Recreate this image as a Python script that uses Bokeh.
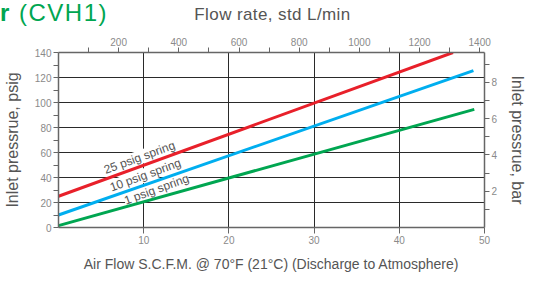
from bokeh.plotting import figure
from bokeh.models import Range1d, LinearAxis, FixedTicker, Label, Div
from bokeh.layouts import column
from bokeh.embed import file_html
from bokeh.resources import INLINE

# ---- data ----
heading_bold = "r"
heading_rest = "(CVH1)"
top_axis_title = "Flow rate, std L/min"
series_names = ["25 psig spring", "10 psig spring", "1 psig spring"]
flow_25 = [0, 46.3]
psig_25 = [25, 140]
flow_10 = [0, 48.7]
psig_10 = [10, 125.5]
flow_1 = [0, 48.8]
psig_1 = [1.5, 94.5]

scfm_ticks = [10, 20, 30, 40, 50]
psig_ticks = [0, 20, 40, 60, 80, 100, 120, 140]
psig_minor = [10, 30, 50, 70, 90, 110, 130]
lpm_ticks = [200, 400, 600, 800, 1000, 1200, 1400]
lpm_minor = [100, 300, 500, 700, 900, 1100, 1300]
bar_ticks = [2, 4, 6, 8]
bar_minor = [1, 3, 5, 7, 9]

RED = "#e8202a"
BLUE = "#00aeef"
GREEN = "#00a651"
TICK_TXT = "#8a8a8a"
LABEL_TXT = "#555555"
AXIS_COL = "#666666"
GRID_COL = "#2a2a2a"
FONT = "Liberation Sans"

W = 529
HEAD_H = 30
BORDER_L, BORDER_R = 54, 38

p = figure(width=W, height=274 - HEAD_H, output_backend="svg", toolbar_location=None,
           x_range=Range1d(0, 50), y_range=Range1d(0, 140),
           min_border_left=BORDER_L, min_border_right=BORDER_R,
           min_border_top=22, min_border_bottom=45)
p.outline_line_color = None
p.background_fill_color = "white"

p.extra_x_ranges = {"lpm": Range1d(0, 1416)}
p.extra_y_ranges = {"bar": Range1d(0, 140 / 14.5038)}

# grids
p.xgrid.ticker = FixedTicker(ticks=[10, 20, 30, 40])
p.ygrid.ticker = FixedTicker(ticks=[20, 40, 60, 80, 100, 120])
for g in (p.xgrid, p.ygrid):
    g.grid_line_color = GRID_COL
    g.grid_line_width = 1

def style_axis(ax, label_standoff):
    ax.axis_line_color = AXIS_COL
    ax.axis_line_width = 1.5
    ax.major_tick_line_color = AXIS_COL
    ax.minor_tick_line_color = AXIS_COL
    ax.major_tick_in = 0
    ax.major_tick_out = 5
    ax.minor_tick_in = 0
    ax.minor_tick_out = 5
    ax.major_label_text_font = FONT
    ax.major_label_text_font_size = "10px"
    ax.major_label_text_color = TICK_TXT
    ax.major_label_standoff = 2
    ax.axis_label_text_font = FONT
    ax.axis_label_text_font_style = "normal"
    ax.axis_label_text_color = LABEL_TXT
    ax.axis_label_standoff = label_standoff

# bottom axis
xa = p.xaxis[0]
xa.ticker = FixedTicker(ticks=scfm_ticks, minor_ticks=[])
style_axis(xa, 9)
xa.axis_label = "Air Flow S.C.F.M. @ 70°F (21°C) (Discharge to Atmosphere)"
xa.axis_label_text_font_size = "14px"
xa.major_tick_out = 6

# left axis
ya = p.yaxis[0]
ya.ticker = FixedTicker(ticks=psig_ticks, minor_ticks=psig_minor)
style_axis(ya, 11)
ya.axis_label = "Inlet pressrue, psig"
ya.axis_label_text_font_size = "16px"

# top axis (its title is in the heading row)
top = LinearAxis(x_range_name="lpm", ticker=FixedTicker(ticks=lpm_ticks, minor_ticks=lpm_minor))
style_axis(top, 4)
p.add_layout(top, "above")

# right axis
right = LinearAxis(y_range_name="bar", ticker=FixedTicker(ticks=bar_ticks, minor_ticks=bar_minor),
                   axis_label="Inlet pressrue, bar")
style_axis(right, 9)
right.axis_label_text_font_size = "16px"
p.add_layout(right, "right")

# spring labels (white backgrounds hide the grid, drawn under the lines)
label_pos = [(9.5, 56.0), (10.2, 42.0), (11.5, 30.5)]
for name, (lx, ly) in zip(series_names, label_pos):
    lab = Label(x=lx, y=ly, text=name, angle=20, angle_units="deg",
                text_align="center", text_baseline="middle",
                text_font=FONT, text_font_size="12px", text_color=LABEL_TXT,
                background_fill_color="white", level="underlay")
    p.add_layout(lab)

# lines
p.line(flow_25, psig_25, line_color=RED, line_width=3)
p.line(flow_10, psig_10, line_color=BLUE, line_width=3)
p.line(flow_1, psig_1, line_color=GREEN, line_width=3)

frame_w = W - BORDER_L - BORDER_R
head_html = (
    f'<div style="position:relative;width:{W}px;height:{HEAD_H}px;'
    f'font-family:\'{FONT}\',sans-serif;white-space:nowrap;">'
    f'<div style="position:absolute;left:0px;top:-1px;font-size:24px;line-height:28px;color:{GREEN};">'
    f'<b>{heading_bold}</b></div>'
    f'<div style="position:absolute;left:19px;top:-1px;font-size:24px;line-height:28px;'
    f'letter-spacing:1.5px;color:{GREEN};">{heading_rest}</div>'
    f'<div style="position:absolute;left:{BORDER_L}px;width:{frame_w}px;top:5px;text-align:center;'
    f'font-size:17px;line-height:20px;letter-spacing:0.4px;color:{LABEL_TXT};">{top_axis_title}</div>'
    f'</div>'
)
head = Div(text=head_html, width=W, height=HEAD_H, margin=(0, 0, 0, 0))

layout = column(head, p, spacing=0, margin=(0, 0, 0, 0))
open("out.html", "w").write(file_html(layout, INLINE))
